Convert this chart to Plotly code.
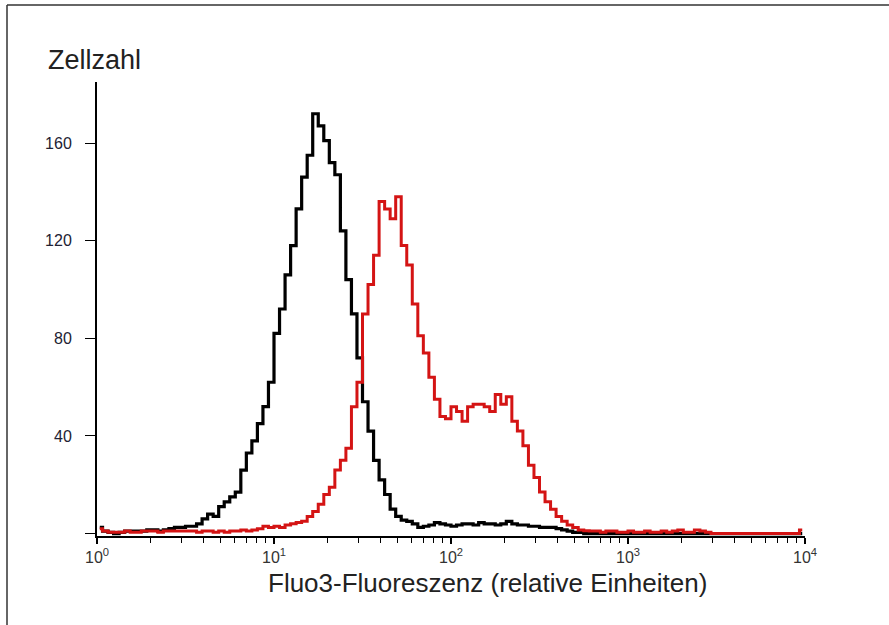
import numpy as np
import plotly.graph_objects as go

# Instrument channels: 128 log-spaced channels over 4 decades (32 per decade)
CHANNELS_PER_DECADE = 32
channels = np.arange(128)
fluorescence = 10 ** ((channels + 0.5) / CHANNELS_PER_DECADE)

# Cell counts per channel, control (black)
counts_control = [
    2.5, 1, 0.5, 0, 0.5, 1, 1, 1, 1, 1.5,
    1.5, 1, 1.5, 2, 2.5, 2.5, 3, 3, 4, 6,
    8, 7, 11, 13, 15, 17, 26, 33, 38, 45,
    52, 62, 82, 92, 106, 118, 133, 146, 155, 172,
    167, 161, 152, 147, 124, 104, 90, 72, 54, 42,
    30, 22, 16, 10, 7, 5.5, 5, 4, 2.5, 3,
    3.5, 4.5, 4, 3.5, 3, 3.5, 4, 4, 3.5, 4.5,
    4, 4, 3.5, 4, 5, 4, 3.5, 3.5, 3, 3,
    2.5, 2.5, 2.5, 2, 1.5, 1, 0.5, 0.5, 0, 0,
    0, 0, 0, 0, 0, 0, 0, 0, 0, 0,
    0, 0, 0, 0, 0, 0, 0, 0, 0, 0,
    0, 0, 0, 0, 0, 0, 0, 0, 0, 0,
    0, 0, 0, 0, 0, 0, 0, 0,
]

# Cell counts per channel, stimulated (red)
counts_stimulated = [
    2, 1, 0.5, 0.5, 0.5, 1, 0.5, 0.5, 1, 1,
    1, 0.5, 1, 1, 1, 1, 1, 1, 0.5, 1,
    1, 0.5, 1, 0.5, 1, 1, 1.5, 1, 1.5, 2,
    3, 2.5, 3, 2.5, 3.5, 4, 4.5, 5, 7, 9,
    12, 16, 19, 26, 30, 35, 52, 62, 90, 102,
    114, 136, 133, 129, 138, 118, 110, 94, 81, 74,
    64, 55, 48, 47, 52, 50, 46, 52, 53, 53,
    52, 50, 57, 53, 56, 46, 42, 36, 28, 23,
    17, 13, 10, 7, 5, 3.5, 2.5, 1.5, 1.2, 1,
    1, 0.5, 1, 1, 0.5, 0.5, 1, 0.5, 0.5, 1,
    0.5, 0.5, 1, 0.5, 1, 1.5, 0.5, 0.5, 1.5, 1,
    0.5, 0, 0, 0, 0, 0, 0, 0, 0, 0,
    0, 0, 0, 0, 0, 0, 0, 1.5,
]

x_tickvals = [1, 10, 100, 1000, 10000]
x_ticktext = ["10<sup>0</sup>", "10<sup>1</sup>", "10<sup>2</sup>", "10<sup>3</sup>", "10<sup>4</sup>"]
x_minor = [m * 10 ** d for d in range(4) for m in range(2, 10)]
y_tickvals = [0, 40, 80, 120, 160]
y_ticktext = ["", "40", "80", "120", "160"]

y_label = "Zellzahl"
x_label = "Fluo3-Fluoreszenz (relative Einheiten)"

W, H = 889, 625
L, R, T, B = 97, 84, 82, 89

fig = go.Figure()
fig.add_trace(go.Scatter(x=fluorescence, y=counts_control, mode="lines",
                         line=dict(color="#000000", width=3.2, shape="hvh"),
                         showlegend=False))
fig.add_trace(go.Scatter(x=fluorescence, y=counts_stimulated, mode="lines",
                         line=dict(color="#d41414", width=3, shape="hvh"),
                         showlegend=False))

pw = W - L - R
ph = H - T - B
def px(x):
    return (x - L) / pw
def py(y):
    return (H - B - y) / ph

fig.update_layout(
    width=W, height=H,
    margin=dict(l=L, r=R, t=T, b=B, autoexpand=False),
    paper_bgcolor="white", plot_bgcolor="white",
    font=dict(family="Liberation Sans, Arial, sans-serif", color="#222"),
    xaxis=dict(type="log", range=[0, 4], showgrid=False, zeroline=False,
               showline=True, linecolor="#000", linewidth=2,
               tickmode="array", tickvals=x_tickvals, ticktext=x_ticktext,
               ticks="outside", ticklen=6, tickwidth=1.5, tickcolor="#000",
               tickfont=dict(size=16, color="#333"),
               minor=dict(tickmode="array", tickvals=x_minor, ticks="outside",
                          ticklen=5, tickwidth=1.2, tickcolor="#000")),
    yaxis=dict(range=[-1, 185], showgrid=False, zeroline=False,
               showline=True, linecolor="#000", linewidth=2,
               tickmode="array", tickvals=y_tickvals, ticktext=y_ticktext,
               ticks="outside", ticklen=10, tickwidth=1.2, tickcolor="#000",
               ticklabelstandoff=10,
               tickfont=dict(size=16, color="#223")),
    annotations=[
        dict(text=y_label, xref="paper", yref="paper", x=px(94), y=py(60),
             xanchor="center", yanchor="middle", showarrow=False,
             font=dict(size=27, color="#222")),
        dict(text=x_label, xref="paper", yref="paper", x=px(487), y=py(583),
             xanchor="center", yanchor="middle", showarrow=False,
             font=dict(size=26, color="#222")),
    ],
    shapes=[
        dict(type="line", xref="paper", yref="paper", x0=px(7), x1=px(7), y0=py(5), y1=py(630),
             line=dict(color="#333", width=1.5)),
        dict(type="line", xref="paper", yref="paper", x0=px(7), x1=px(895), y0=py(5), y1=py(5),
             line=dict(color="#333", width=1.5)),
    ],
)

fig.write_html("out.html", config={"displayModeBar": False},
               post_script="document.body.style.margin='0';document.body.style.overflow='hidden';")
